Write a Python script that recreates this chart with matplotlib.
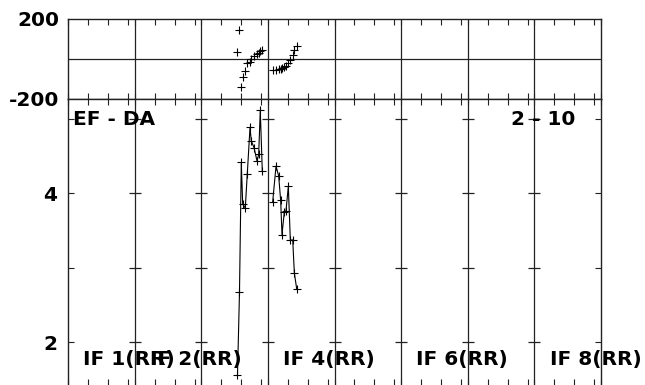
import numpy as np
import matplotlib
matplotlib.use("Agg")
import matplotlib.pyplot as plt

# channel position (IF k spans 10*(k-1) .. 10*k), amplitude, phase (deg)
if3_x = [25.44, 25.74, 26.01, 26.22, 26.61, 26.91, 27.32, 27.51, 27.92, 28.37, 28.62, 28.86, 29.16]
if3_amp = [1.56, 2.67, 4.41, 3.85, 3.80, 4.26, 4.88, 4.70, 4.61, 4.43, 4.52, 5.11, 4.30]
if3_phase = [36, 145, -138, -88, -60, -22, -13, -2, 15, 23, 31, 40, 45]

if4_x = [30.72, 31.22, 31.62, 31.92, 32.12, 32.47, 32.72, 33.07, 33.37, 33.73, 33.97, 34.33]
if4_amp = [3.88, 4.36, 4.23, 3.90, 3.44, 3.75, 3.76, 4.09, 3.37, 3.37, 2.93, 2.71]
if4_phase = [-57, -55, -52, -50, -47, -42, -35, -20, -5, 20, 45, 65]

if_labels = ["IF 1(RR)", "IF 2(RR)", "IF 4(RR)", "IF 6(RR)", "IF 8(RR)"]
if_label_num = [1, 2, 4, 6, 8]
n_if = 8

W, H = 645, 385
fig = plt.figure(figsize=(W / 100, H / 100), dpi=100)
font = dict(family="DejaVu Sans", weight="bold", size=14.5)

# top panel: phase
ax1 = fig.add_axes([68 / W, 1 - 99 / H, 533 / W, 80 / H])
# bottom panel: amplitude (runs off the bottom edge)
ax2 = fig.add_axes([68 / W, 0, 533 / W, 286 / H])

minor = [10 * k + d for k in range(n_if) for d in (0, 3, 6, 9)] + [10 * n_if]
lc = "#222222"

for ax in (ax1, ax2):
    ax.set_xlim(0, 10 * n_if)
    ax.set_xticks(minor)
    ax.set_xticklabels([])
    ax.tick_params(axis="x", direction="in", length=4, width=0.8, color=lc,
                   top=True, bottom=True)
    for s in ax.spines.values():
        s.set_linewidth(1.0)
        s.set_color(lc)
    for k in range(1, n_if):
        ax.axvline(10 * k, color=lc, lw=0.9, zorder=1)

# phase panel
ax1.set_ylim(-200, 200)
ax1.axhline(0, color=lc, lw=0.9)
ax1.set_yticks([-200, 200])
ax1.set_yticklabels(["-200", "200"], **font)
ax1.tick_params(axis="y", length=0, pad=6)
ax1.plot(if3_x, if3_phase, ls="none", marker="+", ms=6, mew=0.8, color="black")
ax1.plot(if4_x, if4_phase, ls="none", marker="+", ms=6, mew=0.8, color="black")

# amplitude panel
ax2.set_ylim(1.423, 5.262)
ax2.spines["bottom"].set_visible(False)
ax2.set_yticks([2, 3, 4, 5])
ax2.set_yticklabels(["2", "", "4", ""], **font)
ax2.tick_params(axis="y", direction="in", length=4, width=0.8, color=lc,
                left=True, right=True, pad=8)
for k in range(1, n_if):
    ax2.plot([10 * k] * 4, [2, 3, 4, 5], ls="none", marker="_", ms=8, mew=0.9, color=lc)

ax2.plot(if3_x, if3_amp, color="black", lw=0.8, marker="+", ms=6, mew=0.8)
ax2.plot(if4_x, if4_amp, color="black", lw=0.8, marker="+", ms=6, mew=0.8)

ax2.text(0.8, 4.99, "EF - DA", va="center", ha="left", **font)
ax2.text(76.1, 4.99, "2 - 10", va="center", ha="right", **font)
for lab, k in zip(if_labels, if_label_num):
    ax2.text(10 * (k - 1) + 2.3, 1.77, lab, va="center", ha="left", **font)

fig.savefig("out.png", dpi=100)
